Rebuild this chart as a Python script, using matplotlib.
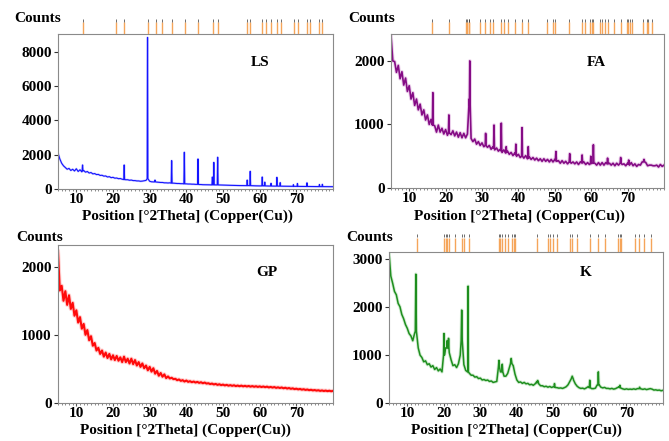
import numpy as np
import matplotlib
matplotlib.use("Agg")
import matplotlib.pyplot as plt
from matplotlib.ticker import MultipleLocator, FixedLocator

plt.rcParams['font.family'] = ['Liberation Serif', 'DejaVu Serif']
plt.rcParams['font.weight'] = 'bold'

# ---------------------------------------------------------------- data
# 2-theta sampling of the continuous scan (deg)
two_theta = np.arange(5.0, 80.01, 0.5)

# LS -- limestone
ls_counts = [
    2100, 1750, 1500, 1350, 1250, 1150, 1200, 1080, 1150, 1050,
    1180, 1020, 1120, 1000, 1080, 980, 1020, 930, 960, 880,
    900, 840, 850, 790, 800, 750, 760, 700, 720, 660,
    680, 630, 640, 600, 610, 570, 560, 540, 540, 510,
    520, 490, 490, 470, 470, 450, 460, 480, 500, 700,
    450, 420, 410, 480, 400, 390, 380, 380, 360, 360,
    350, 360, 340, 340, 330, 320, 320, 310, 310, 300,
    300, 290, 290, 280, 280, 270, 270, 260, 260, 250,
    250, 245, 245, 240, 240, 240, 240, 238, 235, 230,
    225, 222, 220, 216, 214, 210, 208, 205, 203, 200,
    198, 196, 195, 200, 200, 200, 190, 186, 184, 182,
    180, 185, 185, 178, 175, 173, 172, 170, 168, 170,
    168, 166, 163, 162, 160, 158, 157, 156, 155, 154,
    153, 152, 150, 149, 148, 147, 147, 145, 144, 143,
    142, 141, 140, 139, 139, 138, 137, 136, 135, 135,
    134]
ls_peak_pos = [11.7, 23.05, 29.42, 31.45, 36.0, 39.45, 43.18, 47.1, 47.5, 48.55,
               56.6, 57.42, 60.7, 61.4, 63.1, 64.7, 65.6, 69.2, 70.3, 72.9, 76.3, 77.1]
ls_peak_top = [1400, 1400, 8830, 520, 1650, 2140, 1750, 700, 1550, 1850,
               520, 1030, 700, 400, 330, 680, 370, 250, 320, 360, 260, 270]
ls_peak_base = [1050, 550, 600, 410, 340, 300, 270, 240, 240, 238,
                196, 195, 182, 180, 172, 168, 166, 155, 153, 147, 140, 139]
ls_peak_hw = [0.12, 0.12, 0.10, 0.15, 0.12, 0.12, 0.12, 0.12, 0.12, 0.12,
              0.12, 0.12, 0.12, 0.12, 0.12, 0.12, 0.12, 0.12, 0.12, 0.12, 0.12, 0.12]
ls_ref_lines = [11.8, 20.7, 23.0, 29.5, 31.6, 33.4, 36.0, 39.5, 43.2, 47.3, 48.5,
                56.6, 57.4, 60.7, 61.6, 63.2, 64.6, 65.7, 69.3, 70.4, 72.9, 73.6,
                76.2, 77.1]

# FA -- fly ash
fa_counts = [
    2400, 2000, 1990, 1820, 1930, 1720, 1830, 1620, 1730, 1520,
    1610, 1400, 1500, 1300, 1400, 1230, 1320, 1150, 1230, 1070,
    1150, 1000, 1080, 960, 980, 880, 990, 880, 940, 850,
    920, 830, 900, 840, 900, 820, 880, 800, 870, 790,
    860, 790, 850, 1400, 780, 730, 770, 690, 730, 670,
    710, 650, 690, 640, 670, 610, 650, 600, 630, 580,
    610, 560, 600, 550, 580, 530, 560, 510, 550, 500,
    530, 480, 520, 470, 510, 460, 490, 450, 480, 440,
    470, 430, 460, 420, 460, 420, 450, 410, 450, 410,
    450, 420, 430, 390, 430, 390, 420, 380, 430, 390,
    410, 380, 410, 370, 410, 380, 410, 370, 400, 370,
    400, 390, 390, 360, 400, 360, 400, 360, 400, 370,
    390, 360, 390, 350, 390, 360, 410, 370, 380, 350,
    390, 360, 400, 350, 380, 340, 370, 360, 410, 420,
    400, 350, 360, 360, 350, 350, 360, 330, 370, 340,
    360]
fa_peak_pos = [16.5, 20.9, 26.65, 31.0, 33.3, 35.3, 36.65, 39.3, 41.0, 42.7,
               50.3, 54.1, 57.5, 59.9, 60.6, 64.5, 68.1, 70.3, 74.5]
fa_peak_top = [1500, 1150, 2000, 860, 990, 1020, 650, 690, 950, 650,
               575, 540, 520, 500, 680, 470, 480, 440, 450]
fa_peak_base = [990, 870, 1300, 670, 625, 585, 560, 525, 500, 475,
                430, 410, 395, 385, 395, 380, 390, 375, 410]
fa_peak_hw = [0.12, 0.12, 0.10, 0.12, 0.12, 0.12, 0.12, 0.12, 0.12, 0.12,
              0.15, 0.15, 0.15, 0.12, 0.12, 0.15, 0.15, 0.15, 0.2]
fa_ref_lines = [16.2, 20.8, 25.7, 26.0, 26.3, 26.5, 29.4, 30.8, 32.3, 33.0, 35.1,
                36.0, 37.2, 39.2, 40.9, 42.6, 47.9, 49.4, 50.0, 54.0, 57.5, 58.3,
                59.6, 60.1, 60.5, 62.4, 63.0, 63.7, 64.5, 66.3, 68.1, 69.7, 70.1,
                70.6, 71.1, 74.3, 75.2, 75.6, 76.8]

# GP -- geopolymer paste
gp_counts = [
    2220, 1650, 1720, 1500, 1640, 1440, 1580, 1380, 1470, 1280,
    1360, 1180, 1260, 1090, 1160, 1000, 1070, 920, 980, 840,
    880, 770, 810, 720, 770, 680, 740, 660, 720, 640,
    700, 630, 690, 620, 670, 600, 680, 600, 650, 580,
    650, 570, 630, 550, 600, 530, 580, 510, 550, 480,
    530, 460, 510, 430, 470, 400, 440, 385, 420, 365,
    390, 360, 370, 350, 355, 335, 345, 325, 335, 315,
    330, 310, 320, 305, 315, 300, 310, 295, 305, 290,
    300, 285, 290, 278, 285, 272, 280, 266, 275, 262,
    270, 258, 266, 254, 262, 252, 260, 248, 256, 246,
    255, 244, 252, 242, 250, 240, 248, 238, 246, 236,
    244, 234, 242, 232, 240, 228, 236, 226, 234, 222,
    230, 220, 228, 216, 224, 212, 220, 208, 215, 204,
    210, 200, 206, 196, 202, 192, 198, 188, 194, 185,
    190, 182, 187, 178, 184, 176, 182, 174, 180, 172,
    178]
gp_peak_pos, gp_peak_top, gp_peak_base, gp_peak_hw = [], [], [], []

# K -- kaolin
k_counts = [
    3150, 2650, 2500, 2330, 2260, 2080, 2010, 1850, 1760, 1640,
    1560, 1450, 1400, 1300, 1450, 1500, 1150, 1000, 950, 860,
    880, 800, 820, 750, 780, 700, 740, 670, 710, 650,
    1300, 1150, 1250, 1050, 900, 780, 800, 740, 820, 1000,
    1400, 800, 680, 650, 620, 580, 580, 540, 550, 510,
    520, 480, 490, 470, 480, 450, 460, 430, 440, 450,
    850, 650, 780, 560, 560, 620, 750, 900, 780, 600,
    480, 430, 440, 410, 430, 400, 410, 380, 390, 370,
    400, 450, 400, 360, 360, 340, 350, 330, 345, 325,
    340, 325, 320, 310, 315, 305, 320, 340, 380, 450,
    540, 480, 400, 350, 320, 305, 310, 295, 315, 340,
    320, 300, 300, 310, 380, 380, 330, 315, 325, 305,
    305, 295, 305, 290, 300, 320, 340, 310, 295, 285,
    295, 285, 290, 285, 295, 285, 300, 320, 295, 285,
    295, 280, 290, 300, 290, 270, 275, 265, 270, 255,
    265]
k_peak_pos = [12.35, 20.05, 20.9, 21.3, 24.9, 26.65, 35.1, 36.0, 38.45, 45.7,
              50.3, 55.15, 59.95, 62.3, 68.2, 73.6]
k_peak_top = [2690, 1450, 1300, 1350, 1940, 2440, 890, 810, 930, 470,
              405, 560, 475, 650, 370, 330]
k_peak_base = [1500, 1000, 1150, 1150, 1300, 650, 750, 650, 820, 420,
               335, 500, 320, 380, 320, 300]
k_peak_hw = [0.15, 0.12, 0.10, 0.10, 0.15, 0.08, 0.15, 0.15, 0.20, 0.20,
             0.12, 0.30, 0.12, 0.12, 0.15, 0.12]
k_ref_lines = [12.55, 20.0, 20.5, 20.9, 21.4, 23.2, 25.0, 25.5, 26.8, 35.0, 35.5,
               35.9, 36.8, 37.7, 38.6, 39.1, 39.6, 45.6, 48.4, 49.1, 50.0, 51.1,
               54.6, 55.0, 56.4, 60.0, 62.3, 64.1, 67.7, 68.2, 68.6, 72.3, 73.4,
               74.7, 76.8]

y_ticks = {
    'LS': [0, 2000, 4000, 6000, 8000],
    'FA': [0, 1000, 2000],
    'GP': [0, 1000, 2000],
    'K': [0, 1000, 2000, 3000],
}
y_top = {'LS': 9030, 'FA': 2424, 'GP': 2318, 'K': 3153}
x_ticks = [10, 20, 30, 40, 50, 60, 70]


def build_pattern(counts, pk_pos, pk_top, pk_base, pk_hw):
    """Merge the continuous scan with the sharp reflections."""
    x = two_theta.copy()
    y = np.asarray(counts, dtype=float)
    keep = np.ones_like(x, dtype=bool)
    for p, w in zip(pk_pos, pk_hw):
        keep &= np.abs(x - p) >= w - 1e-9
    xs = [x[keep]]
    ys = [y[keep]]
    for p, t, b, w in zip(pk_pos, pk_top, pk_base, pk_hw):
        xs.append(np.array([p - w, p, p + w]))
        ys.append(np.array([b, t, b]))
    xx = np.concatenate(xs)
    yy = np.concatenate(ys)
    order = np.argsort(xx, kind='stable')
    return xx[order], yy[order]


# ---------------------------------------------------------------- layout
W, H = 669, 441
fig = plt.figure(figsize=(W / 100, H / 100), dpi=100)


def px_axes(l, t, r, b):
    return fig.add_axes([l / W, 1 - b / H, (r - l) / W, (b - t) / H])


def fig_text(x, y, s, **kw):
    fig.text(x / W, 1 - y / H, s, fontsize=11, fontweight='bold',
             va='center', **kw)


panels = [
    # name, data, colour, halo colour, halo width, core width, box (l, t, r, b),
    # reference lines, marker strip (t, b), text anchors
    ('LS', (ls_counts, ls_peak_pos, ls_peak_top, ls_peak_base, ls_peak_hw),
     '#1414ff', '#9a9aff', 1.6, 0.8, (58, 34, 333, 189), ls_ref_lines, (19, 34),
     (14, 18), (187, 216), (260, 62)),
    ('FA', (fa_counts, fa_peak_pos, fa_peak_top, fa_peak_base, fa_peak_hw),
     '#850c85', '#d9a0d9', 2.6, 1.2, (391, 34, 664, 188), fa_ref_lines, (19, 34),
     (348, 18), (519, 216), (596, 63)),
    ('GP', (gp_counts, gp_peak_pos, gp_peak_top, gp_peak_base, gp_peak_hw),
     '#ff0a0a', '#ffa0a0', 3.0, 1.5, (58, 245, 333, 403), None, None,
     (16, 237), (185, 430), (267, 273)),
    ('K', (k_counts, k_peak_pos, k_peak_top, k_peak_base, k_peak_hw),
     '#1e8e1e', '#a5d8a5', 2.4, 1.1, (389, 252, 663, 403), k_ref_lines, (234, 252),
     (346, 237), (516, 430), (586, 272)),
]

spine_col = '#8a8a8a'

for (name, data, col, halo, halo_lw, core_lw, box, refs, strip, counts_xy,
     xlab_xy, name_xy) in panels:
    ax = px_axes(*box)
    xx, yy = build_pattern(*data)
    ax.plot(xx, yy, color=halo, lw=halo_lw, alpha=0.5, solid_joinstyle='round')
    ax.plot(xx, yy, color=col, lw=core_lw, solid_joinstyle='round')
    ax.set_xlim(5, 80)
    ax.set_ylim(0, y_top[name])
    ax.xaxis.set_major_locator(FixedLocator(x_ticks))
    ax.xaxis.set_minor_locator(MultipleLocator(1))
    ax.yaxis.set_major_locator(FixedLocator(y_ticks[name]))
    ax.tick_params(axis='x', which='major', length=2.5, width=0.8,
                   color='#555555', pad=0.5, labelsize=11)
    ax.tick_params(axis='x', which='minor', length=1.6, width=0.6,
                   color='#777777')
    ax.tick_params(axis='y', which='major', length=3, width=0.8,
                   color='#333333', pad=1.5, labelsize=11)
    for lab in ax.get_xticklabels() + ax.get_yticklabels():
        lab.set_fontweight('bold')
    for sp in ax.spines.values():
        sp.set_color(spine_col)
        sp.set_linewidth(0.8)

    if refs is not None:
        sax = px_axes(box[0], strip[0], box[2], strip[1])
        sax.set_xlim(5, 80)
        sax.set_ylim(0, 1)
        sax.axis('off')
        sax.vlines(refs, 0, 0.8, color='#f5a55a', lw=1.0)
        sax.vlines(refs, 0.82, 1.0, color='#333333', lw=0.5)

    fig_text(*counts_xy, 'Counts', ha='left')
    fig_text(*xlab_xy, 'Position [°2Theta] (Copper(Cu))', ha='center')
    fig_text(*name_xy, name, ha='center')

fig.savefig('out.png', dpi=100)
